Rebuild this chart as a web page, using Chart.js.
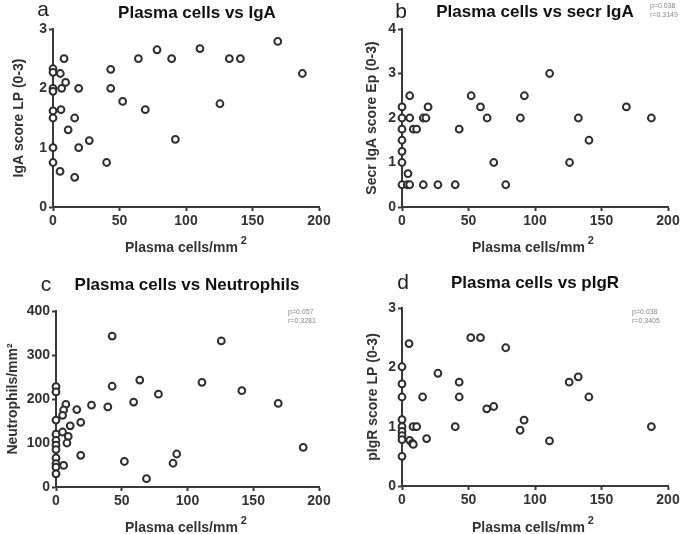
<!DOCTYPE html>
<html>
<head>
<meta charset="utf-8">
<script src="https://cdn.jsdelivr.net/npm/chart.js@4.4.0/dist/chart.umd.min.js"></script>
<style>
  html, body { margin:0; padding:0; background:#fff; }
  body { width:685px; height:534px; position:relative; overflow:hidden; font-family:"Liberation Sans", Arial, sans-serif; }
  .cv { position:absolute; }
  .t { position:absolute; white-space:nowrap; color:#111; }
  .title { font-weight:bold; font-size:17px; transform:translate(-50%,-50%); }
  .letter { font-size:21px; transform:translate(-50%,-50%); color:#222; }
  .xt { font-weight:bold; font-size:14px; color:#333; transform:translate(-50%,-50%); }
  .xt sup { font-size:11px; position:relative; top:-3px; margin-left:3px; }
  .ann { font-size:7px; color:#888; line-height:9px; }
</style>
</head>
<body>
<canvas id="ca" class="cv" width="340" height="260" style="left:0;top:0"></canvas>
<canvas id="cb" class="cv" width="345" height="260" style="left:340px;top:0"></canvas>
<canvas id="cc" class="cv" width="340" height="274" style="left:0;top:260px"></canvas>
<canvas id="cd" class="cv" width="345" height="274" style="left:340px;top:260px"></canvas>

<div class="t letter" style="left:43px;top:9px">a</div>
<div class="t title" style="left:197px;top:13px">Plasma cells vs IgA</div>
<div class="t xt" style="left:186px;top:246px">Plasma cells/mm<sup>2</sup></div>

<div class="t letter" style="left:401px;top:11px">b</div>
<div class="t title" style="left:535px;top:12px">Plasma cells vs secr IgA</div>
<div class="t ann" style="left:650px;top:1px">p=0.038<br>r=0.3149</div>
<div class="t xt" style="left:533px;top:246px">Plasma cells/mm<sup>2</sup></div>

<div class="t letter" style="left:46px;top:284px">c</div>
<div class="t title" style="left:187px;top:285px">Plasma cells vs Neutrophils</div>
<div class="t ann" style="left:288px;top:307px">p=0.057<br>r=0.3281</div>
<div class="t xt" style="left:186px;top:526px">Plasma cells/mm<sup>2</sup></div>

<div class="t letter" style="left:403px;top:282px">d</div>
<div class="t title" style="left:535px;top:283px">Plasma cells vs pIgR</div>
<div class="t ann" style="left:632px;top:307px">p=0.038<br>r=0.3405</div>
<div class="t xt" style="left:533px;top:526px">Plasma cells/mm<sup>2</sup></div>

<script>
// ---- Data ----
const xTicks = [0, 50, 100, 150, 200];

// Panel a: Plasma cells vs IgA
const aX = [0,0,0,0,0,0,0,0, 5.5,8.3,6.5,9.5,6,11.4,16.3,19.3,27.3,19.3,5.3,16.3,40.3,43.4,43.4,52.4,64.2,78.2,69.4,89.2,92,110.5,125.5,132.6,140.9,169,187.5];
const aY = [2.33,2.27,2.0,1.95,1.62,1.5,1.0,0.75, 2.25,2.5,2.0,2.1,1.64,1.3,1.5,2.0,1.12,1.0,0.6,0.5,0.75,2.32,2.0,1.78,2.5,2.65,1.64,2.5,1.14,2.67,1.74,2.5,2.5,2.79,2.25];
const aYTicks = [0,1,2,3];

// Panel b: Plasma cells vs secr IgA
const bX = [0,0,0,0,0,0,0, 5.8,5.8,4.5,4,5.8,8.5,11,16,18,19.6,16,27,40,43,52,59,64,69,78,89,92,111,126,132.6,140.6,168.7,187.5];
const bY = [2.25,2.0,1.75,1.5,1.25,1.0,0.5, 2.5,2.0,0.75,0.5,0.5,1.75,1.75,2.0,2.0,2.25,0.5,0.5,0.5,1.75,2.5,2.25,2.0,1.0,0.5,2.0,2.5,3.0,1.0,2.0,1.5,2.25,2.0];
const bYTicks = [0,1,2,3,4];

// Panel c: Plasma cells vs Neutrophils
const cX = [0,0,0,0,0,0,0,0,0,0,0, 7.5,5.8,5,15.8,27,10.8,18.8,5,9.3,8.3,18.8,5.8,39.4,42.7,42.7,52,59,63.7,68.8,77.9,89,91.8,111,125.7,141.3,169,188];
const cY = [228,216,152,120,106,95,85,66,53,45,30, 188,175,163,176,186,139,147,125,115,100,72,49,182,343,229,58,193,243,19,211,54,75,238,332,219,190,90];
const cYTicks = [0,100,200,300,400];

// Panel d: Plasma cells vs pIgR
const dX = [0,0,0,0,0,0,0,0,0, 5.3,5.8,7.8,8.5,8.3,11,15.5,18.5,27,40,43,43,51.7,59,63.7,69,78,88.8,91.8,110.9,125.7,132.5,140.5,187.5];
const dY = [2.01,1.72,1.5,1.12,1.0,0.92,0.85,0.78,0.5, 2.4,0.77,0.72,0.7,1.0,1.0,1.5,0.8,1.9,1.0,1.75,1.5,2.5,2.5,1.3,1.34,2.33,0.94,1.11,0.76,1.75,1.84,1.5,1.0];
const dYTicks = [0,1,2,3];

const AX = '#3a3a3a';
const FONT = '"Liberation Sans", Arial, sans-serif';

function pts(xs, ys) { return xs.map((x, i) => ({x: x, y: ys[i]})); }

function makeChart(id, xs, ys, yTicks, yTitle, geo) {
  const ymax = yTicks[yTicks.length - 1];
  new Chart(document.getElementById(id), {
    type: 'scatter',
    data: { datasets: [{
      data: pts(xs, ys),
      pointRadius: 3.4,
      pointHoverRadius: 3.4,
      pointBorderWidth: 2,
      pointBackgroundColor: '#ffffff',
      pointBorderColor: '#2e2e2e',
      clip: false
    }]},
    options: {
      responsive: false,
      animation: false,
      events: [],
      layout: { padding: { left: 0, top: geo.top, right: geo.right, bottom: 0 } },
      plugins: { legend: { display: false }, tooltip: { enabled: false } },
      scales: {
        x: {
          type: 'linear', min: 0, max: 200,
          afterBuildTicks: s => { s.ticks = xTicks.map(v => ({value: v})); },
          afterFit: s => { s.height = geo.xh; },
          grid: { display: true, drawOnChartArea: false, drawTicks: true, tickLength: 4, tickWidth: 2, tickColor: AX },
          border: { display: true, width: 2, color: AX },
          ticks: { color: '#333', padding: 2, maxRotation: 0, font: { family: FONT, size: 14, weight: 'bold' } }
        },
        y: {
          type: 'linear', min: 0, max: ymax,
          afterBuildTicks: s => { s.ticks = yTicks.map(v => ({value: v})); },
          afterFit: s => { s.width = geo.left; },
          grid: { display: true, drawOnChartArea: false, drawTicks: true, tickLength: 4, tickWidth: 2, tickColor: AX },
          border: { display: true, width: 2, color: AX },
          ticks: { color: '#333', padding: 2, font: { family: FONT, size: 14, weight: 'bold' } },
          title: { display: true, text: yTitle, color: '#333', padding: { top: geo.tpad, bottom: 0 },
                   font: { family: FONT, size: 14, weight: 'bold' } }
        }
      }
    }
  });
}

makeChart('ca', aX, aY, aYTicks, 'IgA score LP (0-3)', { left: 53, top: 29, right: 21, xh: 53, tpad: 11 });
makeChart('cb', bX, bY, bYTicks, 'Secr IgA score Ep (0-3)', { left: 62, top: 29, right: 17, xh: 53, tpad: 24 });
makeChart('cc', cX, cY, cYTicks, 'Neutrophils/mm\u00B2', { left: 56, top: 51, right: 21, xh: 47, tpad: 5 });
makeChart('cd', dX, dY, dYTicks, 'pIgR score LP (0-3)', { left: 62, top: 48, right: 17, xh: 48, tpad: 25 });
</script>
</body>
</html>
